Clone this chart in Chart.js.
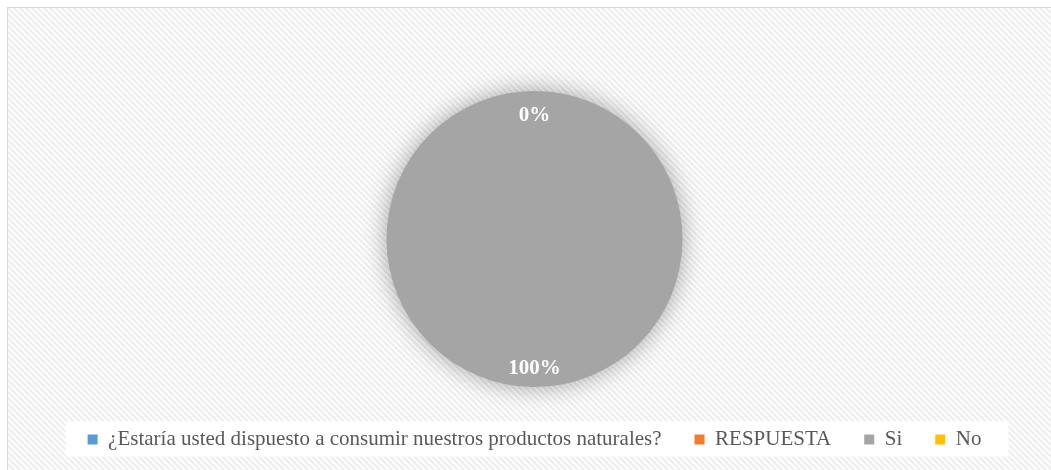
<!DOCTYPE html>
<html>
<head>
<meta charset="utf-8">
<script src="https://cdn.jsdelivr.net/npm/chart.js@4"></script>
<style>
  html, body { margin: 0; padding: 0; background: #ffffff; }
  #wrap { width: 1051px; height: 470px; }
</style>
</head>
<body>
<div id="wrap"><canvas id="encuesta" width="1051" height="470"></canvas></div>
<script>
// datos de la encuesta
var categorias = [
    '¿Estaría usted dispuesto a consumir nuestros productos naturales?',
    'RESPUESTA',
    'Si',
    'No'
];
var valores = [null, null, 100, 0];
var colores = ['#5B9BD5', '#ED7D31', '#A5A5A5', '#FFC000'];

// fondo rayado + marco
var fondo = {
    id: 'fondo',
    beforeDraw: function(chart) {
        var ctx = chart.ctx;
        var tile = document.createElement('canvas');
        tile.width = 6; tile.height = 6;
        var t = tile.getContext('2d');
        t.fillStyle = '#ffffff';
        t.fillRect(0, 0, 6, 6);
        t.strokeStyle = '#ededed';
        t.lineWidth = 2;
        t.beginPath();
        t.moveTo(-1, -1); t.lineTo(7, 7);
        t.moveTo(-4, 2); t.lineTo(2, 8);
        t.moveTo(2, -4); t.lineTo(8, 2);
        t.stroke();
        ctx.save();
        ctx.fillStyle = '#ffffff';
        ctx.fillRect(0, 0, chart.width, chart.height);
        ctx.fillStyle = ctx.createPattern(tile, 'repeat');
        ctx.fillRect(8, 8, chart.width, chart.height);
        ctx.strokeStyle = '#d9d9d9';
        ctx.lineWidth = 1;
        ctx.strokeRect(7.5, 7.5, chart.width + 10, chart.height + 10);
        // caja blanca de la leyenda
        var hb = chart.legend.legendHitBoxes;
        if (hb && hb.length) {
            var x0 = hb[0].left - 22;
            var x1 = hb[hb.length - 1].left + hb[hb.length - 1].width + 27;
            var yc = hb[0].top + hb[0].height / 2;
            ctx.fillStyle = '#ffffff';
            ctx.fillRect(x0, yc - 18, x1 - x0, 35);
        }
        ctx.restore();
    }
};

// sombra del pastel
var sombra = {
    id: 'sombra',
    beforeDatasetsDraw: function(chart) {
        var ctx = chart.ctx;
        ctx.save();
        ctx.shadowColor = 'rgba(0,0,0,0.35)';
        ctx.shadowBlur = 24;
    },
    afterDatasetsDraw: function(chart) {
        chart.ctx.restore();
    }
};

// etiquetas de porcentaje
var etiquetas = {
    id: 'etiquetas',
    afterDatasetsDraw: function(chart) {
        var ctx = chart.ctx;
        var meta = chart.getDatasetMeta(0);
        var total = valores.reduce(function(a, b) { return a + (b || 0); }, 0);
        ctx.save();
        ctx.fillStyle = '#ffffff';
        ctx.font = 'bold 21px "Liberation Serif", "Times New Roman", serif';
        ctx.textAlign = 'center';
        ctx.textBaseline = 'middle';
        meta.data.forEach(function(arc, i) {
            if (valores[i] === null) return;
            var p = arc.getProps(['x', 'y', 'startAngle', 'endAngle', 'outerRadius'], true);
            var a = (p.startAngle + p.endAngle) / 2;
            var r = p.outerRadius * 0.855;
            var txt = Math.round(valores[i] / total * 100) + '%';
            ctx.fillText(txt, p.x + Math.cos(a) * r, p.y + Math.sin(a) * r + 3);
        });
        ctx.restore();
    }
};

var config = {
    type: 'pie',
    data: {
        labels: categorias,
        datasets: [{
            data: valores,
            backgroundColor: colores,
            borderWidth: 0
        }]
    },
    options: {
        responsive: false,
        animation: false,
        layout: {
            padding: { top: 91, bottom: 10, left: 18, right: 0 }
        },
        plugins: {
            legend: {
                display: true,
                position: 'bottom',
                title: {
                    display: true,
                    text: '',
                    padding: 0,
                    font: { size: 9, lineHeight: 1 }
                },
                labels: {
                    boxWidth: 10,
                    boxHeight: 10,
                    padding: 33,
                    color: '#595959',
                    font: { family: '"Liberation Serif", "Times New Roman", serif', size: 21 }
                }
            },
            tooltip: { enabled: false }
        }
    },
    plugins: [fondo, sombra, etiquetas]
};

window.onload = function() {
    var ctx = document.getElementById('encuesta').getContext('2d');
    window.miPastel = new Chart(ctx, config);
};
</script>
</body>
</html>
